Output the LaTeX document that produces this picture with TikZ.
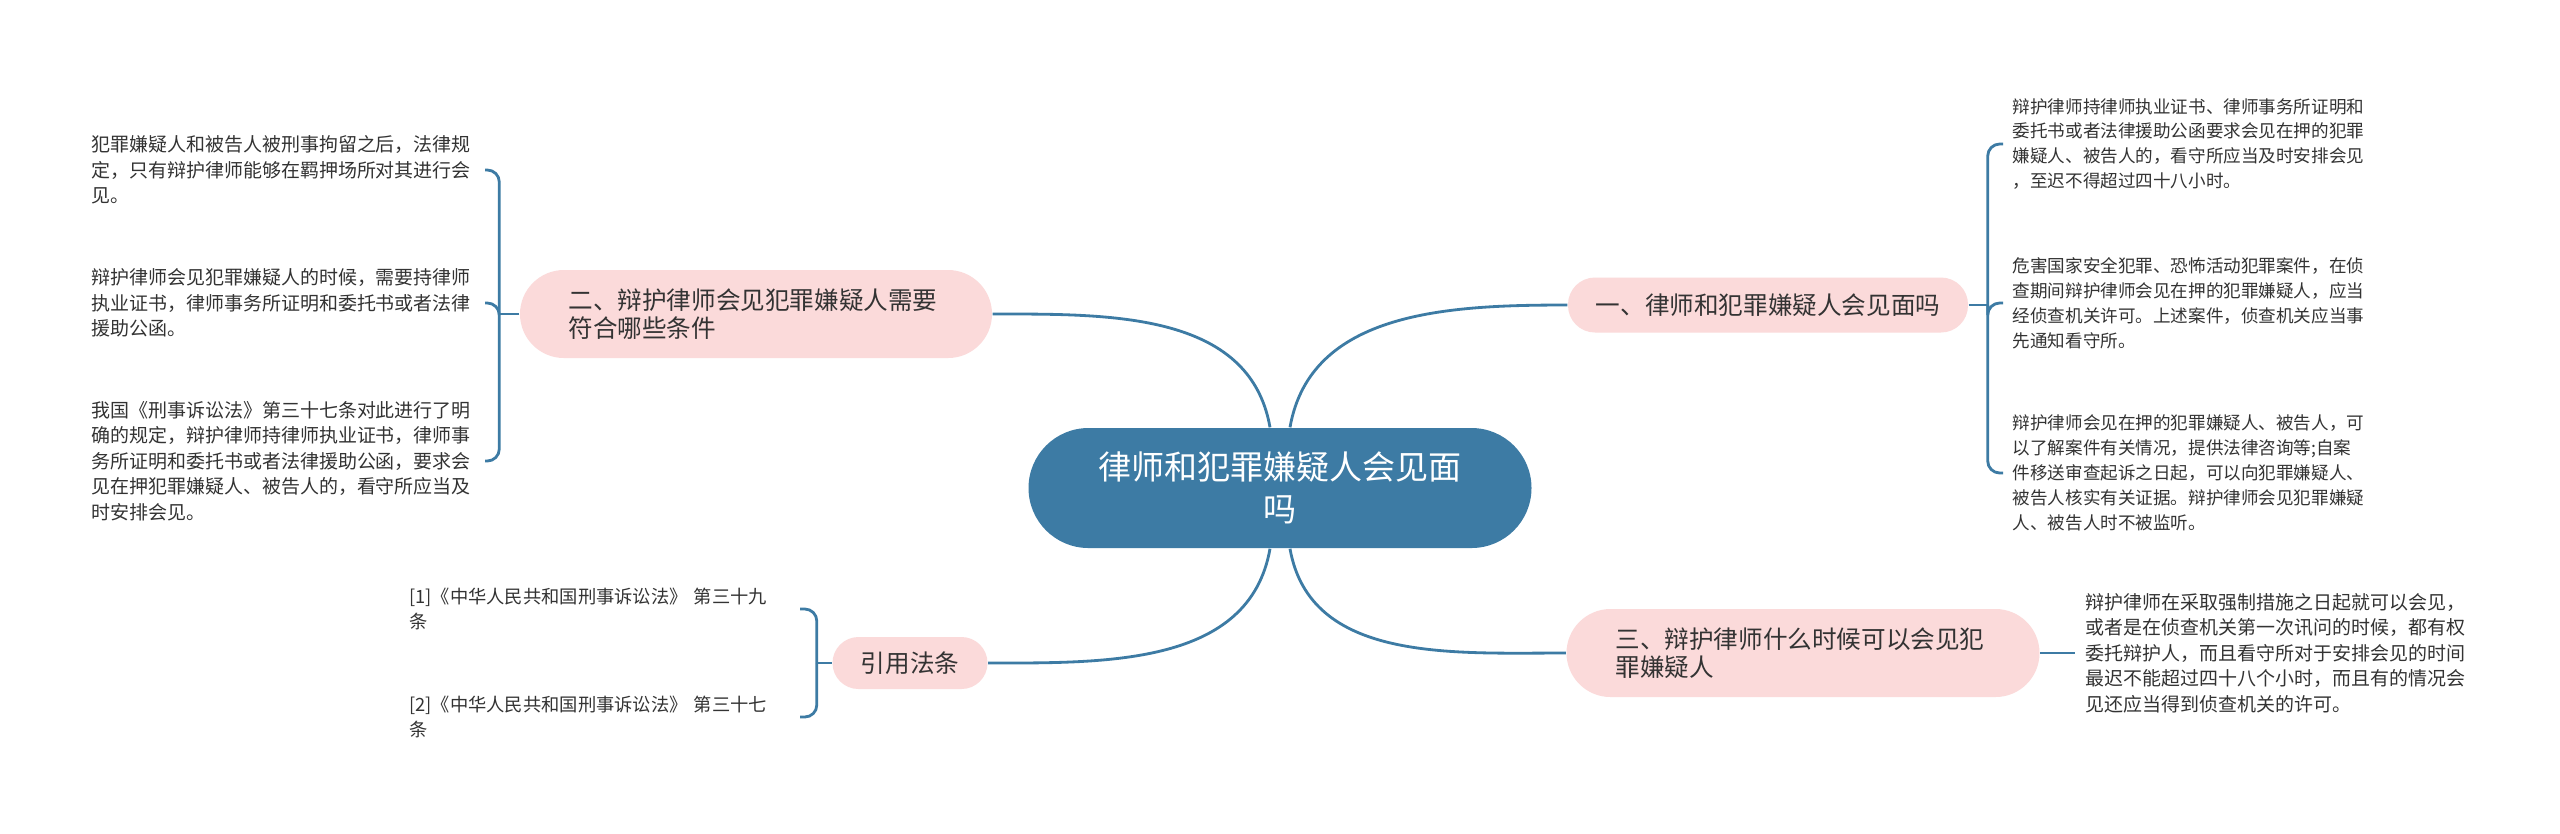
\documentclass[tikz,border=0pt]{standalone}
\usepackage{fontspec}
\setmainfont{Noto Sans CJK SC}
\usepackage{tikz}
\usetikzlibrary{positioning}
\definecolor{linkblue}{HTML}{3D7BA4}
\definecolor{branchpink}{HTML}{FBDADA}
\definecolor{textgray}{HTML}{333333}
\tikzset{
    root/.style={fill=linkblue, text=white, rounded corners=0.6cm, minimum width=5.03cm, minimum height=1.2cm, text width=3.9cm, align=center, font=\fontsize{9.4}{12}\selectfont},
    branch/.style={fill=branchpink, text=textgray, rounded corners=0.44cm, minimum height=0.88cm, align=left, font=\fontsize{7}{7.8}\selectfont},
    leaf/.style={text=textgray, inner ysep=0pt, inner xsep=0.1cm, align=left, font=\fontsize{5.4}{7.25}\selectfont},
    smallleaf/.style={leaf, inner xsep=0.09cm, text width=3.55cm, font=\fontsize{5}{7.1}\selectfont},
    link/.style={draw=linkblue, line width=0.8pt},
    bracket/.style={link, rounded corners=0.12cm}
}

\begin{document}
\begin{tikzpicture}[node distance=0.35cm]
    \useasboundingbox[fill=white] (0,0) rectangle (25.6,-8.33);
    % centre and branches
    \node[root] (M) at (12.80,-4.88) {律师和犯罪嫌疑人会见面\\吗};
    \node[branch, rounded corners=0.27cm, minimum width=4.0cm, minimum height=0.55cm] (A) at (17.68,-3.05) {一、律师和犯罪嫌疑人会见面吗};
    \node[branch, minimum width=4.72cm, text width=3.75cm] (B) at (7.56,-3.14) {二、辩护律师会见犯罪嫌疑人需要\\符合哪些条件};
    \node[branch, minimum width=4.73cm, text width=3.75cm] (C) at (18.03,-6.53) {三、辩护律师什么时候可以会见犯\\罪嫌疑人};
    \node[branch, rounded corners=0.26cm, minimum width=1.55cm, minimum height=0.52cm] (D) at (9.10,-6.63) {引用法条};

    % leaves
    \node[smallleaf, anchor=west] (A1) at (20.03,-1.44) {辩护律师持律师执业证书、律师事务所证明和\\委托书或者法律援助公函要求会见在押的犯罪\\嫌疑人、被告人的，看守所应当及时安排会见\\，至迟不得超过四十八小时。};
    \node[smallleaf, anchor=west] (A2) at (20.03,-3.03) {危害国家安全犯罪、恐怖活动犯罪案件，在侦\\查期间辩护律师会见在押的犯罪嫌疑人，应当\\经侦查机关许可。上述案件，侦查机关应当事\\先通知看守所。};
    \node[smallleaf, anchor=west] (A3) at (20.03,-4.73) {辩护律师会见在押的犯罪嫌疑人、被告人，可\\以了解案件有关情况，提供法律咨询等;自案\\件移送审查起诉之日起，可以向犯罪嫌疑人、\\被告人核实有关证据。辩护律师会见犯罪嫌疑\\人、被告人时不被监听。};
    \node[leaf, anchor=east, text width=3.83cm] (B1) at (4.85,-1.70) {犯罪嫌疑人和被告人被刑事拘留之后，法律规\\定，只有辩护律师能够在羁押场所对其进行会\\见。};
    \node[leaf, anchor=east, text width=3.83cm] (B2) at (4.85,-3.03) {辩护律师会见犯罪嫌疑人的时候，需要持律师\\执业证书，律师事务所证明和委托书或者法律\\援助公函。};
    \node[leaf, anchor=east, text width=3.83cm] (B3) at (4.85,-4.61) {我国《刑事诉讼法》第三十七条对此进行了明\\确的规定，辩护律师持律师执业证书，律师事\\务所证明和委托书或者法律援助公函，要求会\\见在押犯罪嫌疑人、被告人的，看守所应当及\\时安排会见。};
    \node[leaf, right=of C, text width=3.85cm] (C1) {辩护律师在采取强制措施之日起就可以会见，\\或者是在侦查机关第一次讯问的时候，都有权\\委托辩护人，而且看守所对于安排会见的时间\\最迟不能超过四十八个小时，而且有的情况会\\见还应当得到侦查机关的许可。};
    \node[leaf, anchor=east, inner xsep=0.18cm, text width=3.72cm, font=\fontsize{5.2}{6.9}\selectfont] (D1) at (8.00,-6.09) {[1]《中华人民共和国刑事诉讼法》 第三十九\\条};
    \node[leaf, anchor=east, inner xsep=0.18cm, text width=3.72cm, font=\fontsize{5.2}{6.9}\selectfont] (D2) at (8.00,-7.17) {[2]《中华人民共和国刑事诉讼法》 第三十七\\条};

    % centre to branches
    \draw[link] ([xshift=-0.10cm]M.north) to[out=100, in=0] (B.east);
    \draw[link] ([xshift=0.10cm]M.north) to[out=80, in=180] (A.west);
    \draw[link] ([xshift=-0.10cm]M.south) to[out=-100, in=0] (D.east);
    \draw[link] ([xshift=0.10cm]M.south) to[out=-80, in=180] (C.west);

    % branches to leaves
    \coordinate[right=0.19cm of A] (jA);
    \draw[link] (A.east) -- (jA);
    \foreach \n in {A1,A2,A3}
        \draw[bracket] (jA) |- (\n.west);
    \coordinate[left=0.2cm of B] (jB);
    \draw[link] (B.west) -- (jB);
    \foreach \n in {B1,B2,B3}
        \draw[bracket] (jB) |- (\n.east);
    \draw[link] (C.east) -- (C1.west);
    \coordinate[left=0.15cm of D] (jD);
    \draw[link] (D.west) -- (jD);
    \foreach \n in {D1,D2}
        \draw[bracket] (jD) |- (\n.east);
\end{tikzpicture}
\end{document}
